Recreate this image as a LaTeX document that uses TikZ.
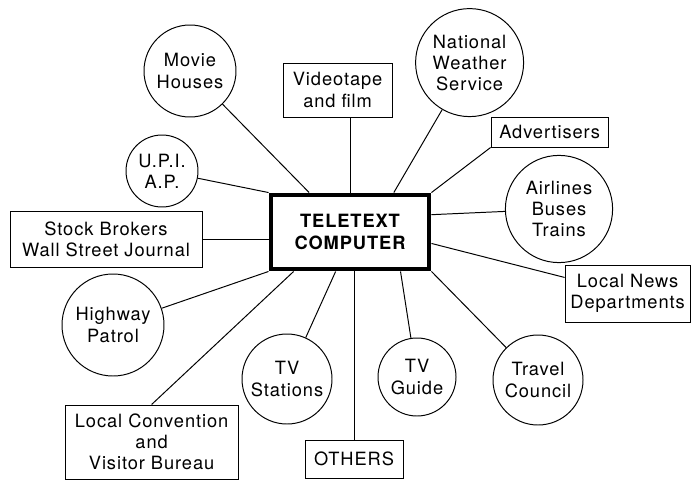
\documentclass[tikz,border=0pt]{standalone}
\usepackage{fontspec}
\setmainfont{TeX Gyre Heros}[LetterSpace=5]
\begin{document}
\begin{tikzpicture}[
    src/.style={draw, circle, inner sep=0pt, line width=0.7pt, align=center},
    srcbox/.style={draw, rectangle, inner sep=0pt, line width=0.7pt, align=center},
    link/.style={line width=0.7pt},
    font=\fontsize{13}{15}\selectfont
]
    \useasboundingbox (0, 0) rectangle (17.325, 12.025);

    % 中心
    \node[draw, line width=3.5pt, minimum width=3.95cm, minimum height=1.85cm, align=center,
          font=\fontsize{13}{15.5}\selectfont\bfseries] (comp) at (8.75, 6.225) {TELETEXT\\COMPUTER};

    % 上方
    \node[src, minimum size=2.3cm] (movie) at (4.75, 10.25) {Movie\\Houses};
    \node[srcbox, minimum width=2.725cm, minimum height=1.35cm] (video) at (8.44, 9.775) {Videotape\\and film};
    \node[src, minimum size=2.7cm] (nws) at (11.74, 10.46) {National\\Weather\\Service};
    \node[srcbox, minimum width=2.925cm, minimum height=0.75cm] (adv) at (13.74, 8.725) {Advertisers};
    \node[src, minimum size=1.8cm] (upi) at (4.05, 7.75) {U.P.I.\\A.P.};

    % 左右
    \node[srcbox, minimum width=4.8cm, minimum height=1.4cm] (stock) at (2.65, 6.05) {Stock Brokers\\Wall Street Journal};
    \node[src, minimum size=2.68cm] (air) at (13.975, 6.8) {Airlines\\Buses\\Trains};
    \node[srcbox, minimum width=3.125cm, minimum height=1.425cm] (news) at (15.69, 4.6875) {Local News\\Departments};

    % 下方
    \node[src, minimum size=2.55cm] (highway) at (2.825, 3.9) {Highway\\Patrol};
    \node[src, minimum size=2.25cm] (stations) at (7.175, 2.55) {TV\\Stations};
    \node[src, minimum size=1.95cm] (guide) at (10.425, 2.6) {TV\\Guide};
    \node[src, minimum size=2.25cm] (travel) at (13.45, 2.525) {Travel\\Council};
    \node[srcbox, minimum width=4.325cm, minimum height=1.85cm] (conv) at (3.79, 0.975) {Local Convention\\and\\Visitor Bureau};
    \node[srcbox, minimum width=2.45cm, minimum height=0.95cm] (others) at (8.85, 0.55) {OTHERS};

    % 连线
    \draw[link] (movie) -- (comp.136);
    \draw[link] (comp.north) -- (comp.north |- video.south);
    \draw[link] (nws) -- (comp.42);
    \draw[link] (adv.south west) -- (comp.north east);
    \draw[link] (upi) -- (comp.north west);
    \draw[link] (stock.east) -- (stock.east -| comp.west);
    \draw[link] (air) -- (comp.12);
    \draw[link] (news) -- (comp.-8);
    \draw[link] (highway) -- (comp.south west);
    \draw[link] (conv.north) -- (comp.-145);
    \draw[link] (stations) -- (comp.-110);
    \draw[link] (others.north) -- (others.north |- comp.south);
    \draw[link] (guide) -- (comp.-38);
    \draw[link] (travel) -- (comp.south east);
\end{tikzpicture}
\end{document}
